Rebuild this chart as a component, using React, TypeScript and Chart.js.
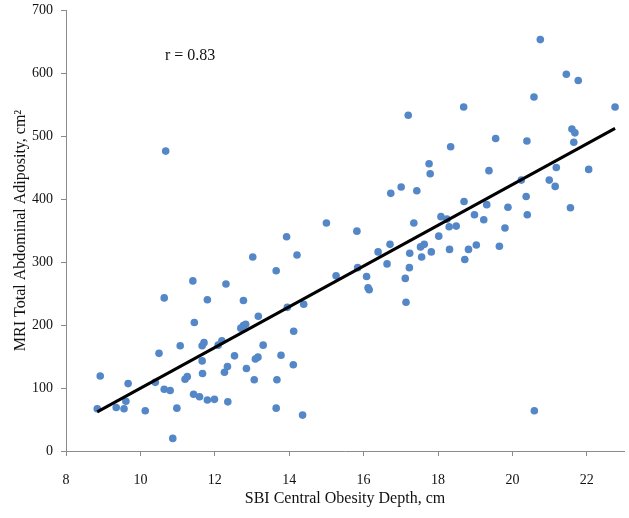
import React, { useEffect, useRef } from "react";
import { Chart, registerables } from "chart.js";

Chart.register(...registerables);

const xValues: number[] = [
  8.84, 8.92, 9.35, 9.56, 9.61, 9.67, 10.13, 10.4, 10.5, 10.64,
  10.64, 10.68, 10.8, 10.87, 10.98, 11.07, 11.2, 11.26, 11.41, 11.43,
  11.45, 11.59, 11.66, 11.66, 11.67, 11.71, 11.8, 11.8, 11.99, 12.09,
  12.19, 12.26, 12.3, 12.34, 12.35, 12.53, 12.7, 12.77, 12.77, 12.83,
  12.85, 13.02, 13.06, 13.09, 13.16, 13.17, 13.3,
  13.65, 13.65, 13.67, 13.78, 13.93, 13.95, 14.11, 14.12, 14.21, 14.36,
  14.39, 15.0, 15.26, 15.82, 15.84, 16.08, 16.12, 16.15, 16.39,
  16.63, 16.71, 16.73, 17.01, 17.12, 17.14, 17.2, 17.23, 17.24, 17.35,
  17.43, 17.53, 17.56, 17.63, 17.76, 17.79, 17.82, 18.02, 18.08, 18.24,
  18.3, 18.31, 18.34, 18.49, 18.69, 18.7, 18.72, 18.82, 18.98, 19.03,
  19.23, 19.31, 19.37, 19.55, 19.65, 19.8, 19.88, 20.24, 20.37, 20.39,
  20.4, 20.58, 20.59, 20.75, 20.99, 21.15, 21.18, 21.45, 21.56, 21.6,
  21.65, 21.68, 21.77, 22.05, 22.76,
];

const yValues: number[] = [
  67, 119, 69, 67, 79, 107, 64, 109, 155, 243,
  98, 476, 96, 20, 68, 167, 114, 118, 270, 90,
  204, 86, 143, 167, 123, 172, 240, 81, 82, 168,
  175, 125, 265, 134, 78, 151, 195, 199, 239, 201,
  131, 308, 113, 146, 149, 214, 168,
  286, 68, 113, 152, 340, 228, 137, 190, 311, 57,
  233, 362, 278, 349, 291, 277, 259, 256, 316,
  297, 328, 409, 419, 274, 236, 533, 291, 314, 362,
  413, 324, 308, 328, 456, 440, 316, 341, 372, 368,
  356, 320, 483, 357, 546, 396, 304, 320, 375, 327,
  367, 391, 445, 496, 325, 354, 387, 430, 404, 492,
  375, 562, 64, 653, 430, 420, 450, 598, 386, 511,
  490, 505, 588, 447, 546,
];

// Fitted regression line end points
const fitX: number[] = [8.84, 22.76];
const fitY: number[] = [62, 512];

const xTicks: number[] = [8, 10, 12, 14, 16, 18, 20, 22];
const annotationText = "r = 0.83";
const xTitle = "SBI Central Obesity Depth, cm";
const yTitle = "MRI Total Abdominal Adiposity, cm\u00B2";

const FONT = "'Liberation Serif', 'Times New Roman', serif";
const AXIS_COLOR = "#8a8a8a";

export default function App() {
  const ref = useRef<HTMLCanvasElement | null>(null);

  useEffect(() => {
    if (!ref.current) return;
    const textPlugin = {
      id: "rText",
      afterDatasetsDraw(chart: any) {
        const ctx = chart.ctx;
        ctx.save();
        ctx.font = `16px ${FONT}`;
        ctx.fillStyle = "#111";
        ctx.textAlign = "left";
        ctx.textBaseline = "middle";
        ctx.fillText(annotationText, 165, 56);
        ctx.restore();
      },
    };
    const chart = new Chart(ref.current, {
      type: "scatter",
      data: {
        datasets: [
          {
            type: "line",
            data: fitX.map((x, i) => ({ x, y: fitY[i] })),
            borderColor: "#000",
            borderWidth: 3,
            pointRadius: 0,
            fill: false,
            order: 0,
          } as any,
          {
            data: xValues.map((x, i) => ({ x, y: yValues[i] })),
            backgroundColor: "rgb(84,135,199)",
            borderColor: "rgb(84,135,199)",
            borderWidth: 0,
            pointRadius: 3.8,
            order: 1,
          },
        ],
      },
      plugins: [textPlugin],
      options: {
        animation: false,
        responsive: false,
        devicePixelRatio: 1,
        layout: { padding: { top: 10, right: 5, left: 0, bottom: 0 } },
        plugins: {
          legend: { display: false },
          tooltip: { enabled: false },
        },
        scales: {
          x: {
            type: "linear",
            min: 8,
            max: 23,
            afterBuildTicks: (scale: any) => {
              scale.ticks = xTicks.map((v) => ({ value: v }));
            },
            afterFit: (scale: any) => {
              scale.height = 67;
              scale.paddingLeft = 0;
              scale.paddingRight = 0;
            },
            grid: {
              drawOnChartArea: false,
              drawTicks: true,
              tickLength: 5,
              color: AXIS_COLOR,
            },
            border: { display: true, color: AXIS_COLOR, width: 1 },
            ticks: {
              padding: 16,
              color: "#111",
              font: { family: FONT, size: 14 },
              maxRotation: 0,
            },
            title: {
              display: true,
              text: xTitle,
              color: "#111",
              font: { family: FONT, size: 16 },
              padding: { top: 0, bottom: 10 },
            },
          },
          y: {
            type: "linear",
            min: 0,
            max: 700,
            ticks: {
              stepSize: 100,
              padding: 8,
              color: "#111",
              font: { family: FONT, size: 14 },
            },
            afterFit: (scale: any) => {
              scale.width = 66;
              scale.paddingTop = 0;
              scale.paddingBottom = 0;
            },
            grid: {
              drawOnChartArea: false,
              drawTicks: true,
              tickLength: 5,
              color: AXIS_COLOR,
            },
            border: { display: true, color: AXIS_COLOR, width: 1 },
            title: {
              display: true,
              text: yTitle,
              color: "#111",
              font: { family: FONT, size: 16 },
              padding: { top: 11, bottom: 0 },
            },
          },
        },
      },
    });
    return () => chart.destroy();
  }, []);

  return (
    <div style={{ position: "absolute", left: 0, top: 0, width: 629, height: 518, background: "#fff" }}>
      <canvas ref={ref} width={629} height={518} style={{ width: 629, height: 518 }} />
    </div>
  );
}
